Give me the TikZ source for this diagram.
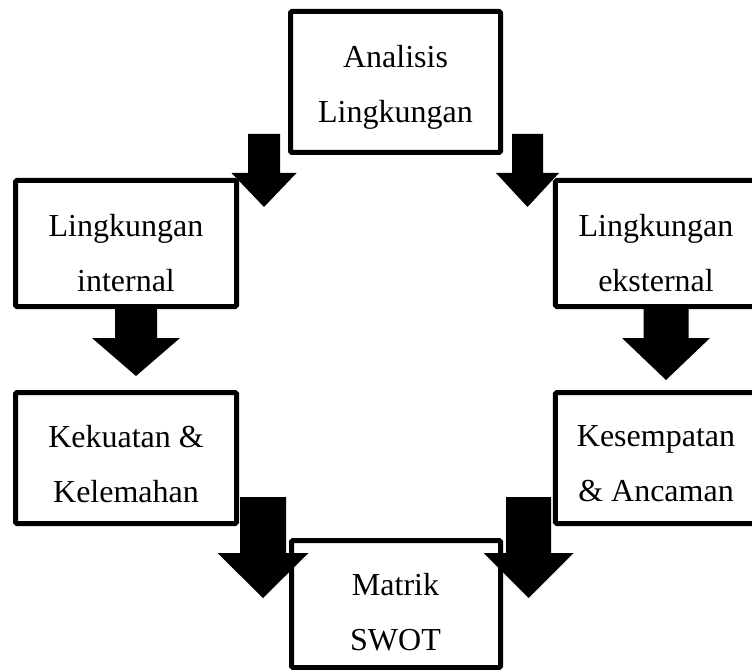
\documentclass[tikz,border=0pt]{standalone}
\usepackage{fontspec}
\setmainfont{Liberation Serif}
\tikzset{
  framebox/.style={draw, line width=3.75pt, rounded corners=1pt, inner sep=0pt},
  boxtext/.style={font=\fontsize{24}{41.25}\selectfont, align=center, inner sep=0pt,
                  execute at begin node=\strut, execute at end node=\strut},
  blockarrow/.style={fill=black},
}
\begin{document}
\begin{tikzpicture}[x=0.75pt, y=-0.75pt]
\useasboundingbox (0,0) rectangle (752,670);
\clip (0,0) rectangle (752,670);

% ---------------- block arrows (under the boxes) ----------------
% centre x / shaft top / head top / tip / half shaft / half head
\foreach \cx/\ty/\hy/\py/\sw/\hw in {%
    264/134/173/207/16/32.5,
    527.5/134/173/207/15.5/31.5,
    136/309/338/376/21/44,
    666/309/338/380/22.5/44,
    263/497/553/598/23/45.5,
    528.5/497/553/598/22.5/45} {
  \fill[blockarrow] (\cx-\sw,\ty) -- (\cx+\sw,\ty) -- (\cx+\sw,\hy) -- (\cx+\hw,\hy)
    -- (\cx,\py) -- (\cx-\hw,\hy) -- (\cx-\sw,\hy) -- cycle;
}

% ---------------- boxes ----------------
\node[framebox, minimum width=157.5pt, minimum height=105.75pt] (analisis) at (395.5,82) {};
\node[framebox, minimum width=165.75pt, minimum height=94.5pt] (internal) at (126,243.5) {};
\node[framebox, minimum width=150.4pt, minimum height=94.5pt] (eksternal) at (655.75,243.5) {};
\node[framebox, minimum width=165.75pt, minimum height=98.25pt] (kekuatan) at (126,458) {};
\node[framebox, minimum width=150.4pt, minimum height=98.25pt] (kesempatan) at (655.75,458) {};
\node[framebox, minimum width=156.75pt, minimum height=95.25pt] (swot) at (396,604) {};

% ---------------- box texts ----------------
\node[boxtext] (analisis-t) at (395.5,92.5) {Analisis\\Lingkungan};
\node[boxtext] (internal-t) at (126,261) {Lingkungan\\internal};
\node[boxtext] (eksternal-t) at (656,261) {Lingkungan\\eksternal};
\node[boxtext] (kekuatan-t) at (126,472) {Kekuatan \&\\Kelemahan};
\node[boxtext] (kesempatan-t) at (656,472) {Kesempatan\\\& Ancaman};
\node[boxtext] (swot-t) at (395.5,620.5) {Matrik\\SWOT};
\end{tikzpicture}
\end{document}
